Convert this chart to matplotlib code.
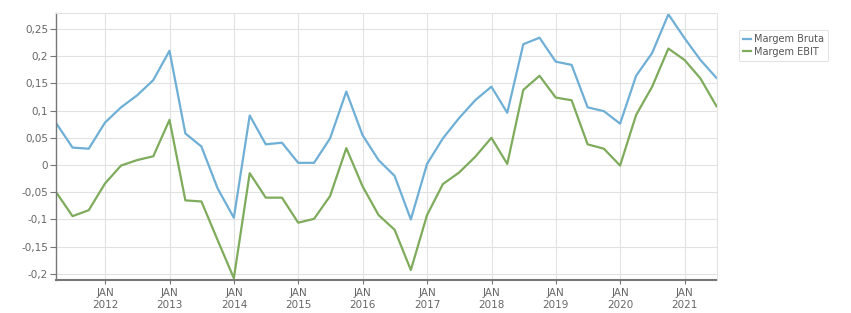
import matplotlib
matplotlib.use('Agg')
import matplotlib.pyplot as plt
import numpy as np
import pandas as pd
from matplotlib.ticker import FuncFormatter

# quarterly values, 2011 Q1 .. 2021 Q2
quarters = pd.date_range('2011-03-31', periods=42, freq='QE')
margem_bruta = [0.076, 0.032, 0.030, 0.078, 0.106, 0.128, 0.156, 0.210,
                0.058, 0.034, -0.043, -0.097, 0.091, 0.038, 0.041, 0.004,
                0.004, 0.049, 0.135, 0.055, 0.009, -0.020, -0.100, 0.002,
                0.049, 0.086, 0.119, 0.144, 0.096, 0.222, 0.234, 0.190,
                0.184, 0.106, 0.099, 0.076, 0.164, 0.206, 0.277, 0.233,
                0.193, 0.160]
margem_ebit = [-0.051, -0.094, -0.083, -0.034, -0.001, 0.009, 0.016, 0.083,
               -0.065, -0.067, -0.138, -0.208, -0.015, -0.060, -0.060, -0.106,
               -0.099, -0.057, 0.031, -0.039, -0.092, -0.119, -0.193, -0.092,
               -0.035, -0.014, 0.015, 0.050, 0.002, 0.138, 0.164, 0.124,
               0.119, 0.038, 0.030, -0.001, 0.092, 0.144, 0.214, 0.193,
               0.159, 0.108]
years = list(range(2012, 2022))
y_ticks = [-0.2, -0.15, -0.1, -0.05, 0, 0.05, 0.1, 0.15, 0.2, 0.25]

W, H = 851, 313
fig = plt.figure(figsize=(W / 100, H / 100), dpi=100)
ax = fig.add_axes([56.5 / W, 1 - 279.7 / H, 660 / W, (279.7 - 13) / H])

ax.plot(quarters, margem_bruta, color='#6fafd6', lw=1.6, label='Margem Bruta')
ax.plot(quarters, margem_ebit, color='#7eab5c', lw=1.6, label='Margem EBIT')

ax.set_xlim(pd.Timestamp('2011-03-31'), pd.Timestamp('2021-06-30'))
ax.set_ylim(-0.2108, 0.2794)

ax.set_xticks([pd.Timestamp(f'{y}-01-01') for y in years])
ax.set_xticklabels([f'JAN\n{y}' for y in years], linespacing=1.25)
ax.set_yticks(y_ticks)


def fmt(v, pos):
    s = ('%.2f' % v).rstrip('0').rstrip('.')
    if s == '-0':
        s = '0'
    return s.replace('.', ',')


ax.yaxis.set_major_formatter(FuncFormatter(fmt))

ax.grid(True, color='#e2e2e2', lw=0.8)
ax.set_axisbelow(True)
for side in ['top', 'right']:
    ax.spines[side].set_color('#e2e2e2')
    ax.spines[side].set_linewidth(0.8)
ax.spines['left'].set_color('#777777')
ax.spines['left'].set_linewidth(1.0)
ax.spines['bottom'].set_color('#777777')
ax.spines['bottom'].set_linewidth(1.5)

ax.tick_params(axis='y', length=4, width=0.8, color='#777777',
               labelsize=7.5, labelcolor='#666666', pad=2)
ax.tick_params(axis='x', length=3, width=0.8, color='#777777',
               labelsize=7.5, labelcolor='#666666', pad=3)

leg = ax.legend(loc='upper left', bbox_to_anchor=(739 / W, 1 - 30 / H),
                bbox_transform=fig.transFigure, fontsize=7, frameon=True,
                fancybox=False, handlelength=0.8, handletextpad=0.3,
                borderpad=0.45, labelspacing=0.25, borderaxespad=0)
leg.get_frame().set_edgecolor('#dddddd')
leg.get_frame().set_linewidth(0.8)
for t in leg.get_texts():
    t.set_color('#555555')

fig.savefig('out.png', dpi=100)
